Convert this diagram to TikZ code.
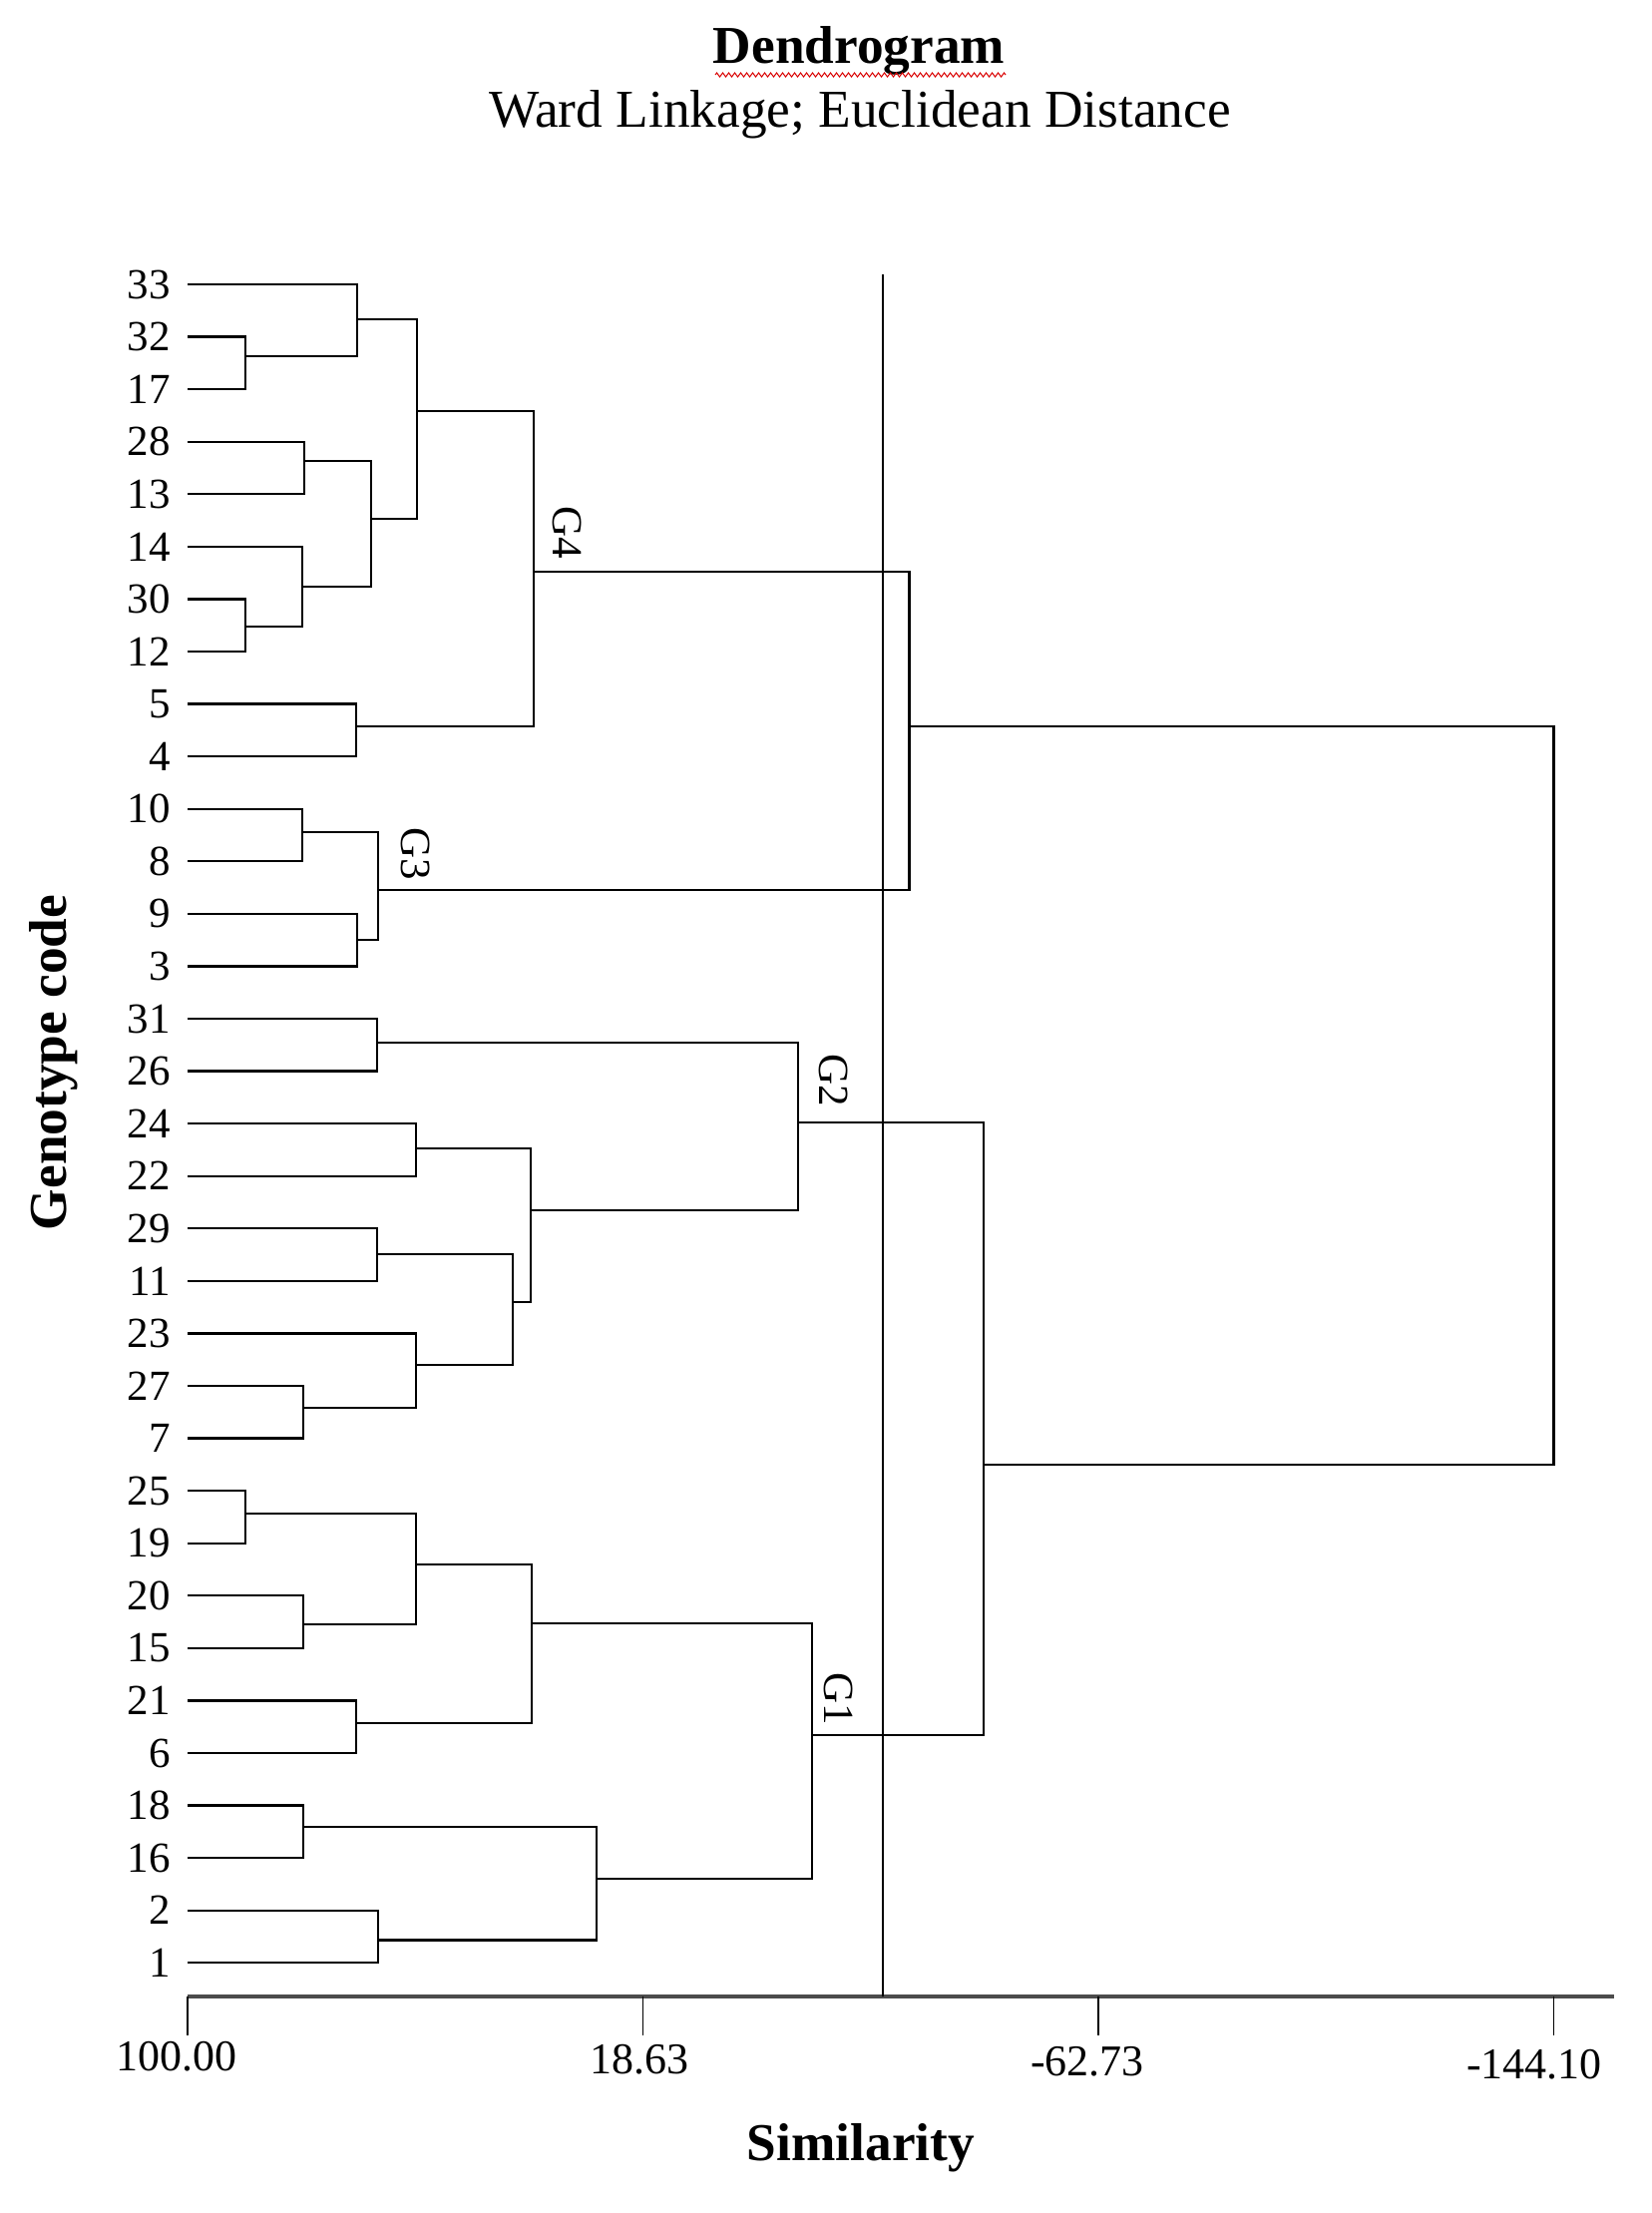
\documentclass[tikz,border=0pt]{standalone}
\usepackage{fontspec}
\setmainfont{Liberation Serif}
\usepackage{tikz}
\usetikzlibrary{positioning,decorations.pathmorphing}
\tikzstyle{link}=[line width=0.7pt,draw=black]
\tikzstyle{leaflab}=[inner sep=0pt,font=\fontsize{12.9}{15}\selectfont]
\tikzstyle{grplab}=[inner sep=0pt,rotate=-90,font=\fontsize{12.9}{15}\selectfont]
\tikzstyle{ticklab}=[inner sep=0pt,font=\fontsize{13.2}{15}\selectfont]
\tikzstyle{axtitle}=[inner sep=0pt,font=\fontsize{16}{19}\selectfont\bfseries]
\tikzstyle{axisline}=[line width=1pt,draw=black!70]
\tikzstyle{tickmark}=[line width=0.45pt,draw=black]
\tikzstyle{squiggle}=[draw=red!85!black,line width=0.3pt,decorate,
                      decoration={zigzag,segment length=1.8pt,amplitude=0.6pt}]

\begin{document}
\begin{tikzpicture}[x=0.3pt,y=-0.3pt]
  \useasboundingbox (0,0) rectangle (1655,2218);
  % titles
  \node[axtitle,anchor=base] (ttl) at (861,64) {Dendrogram};
  \draw[squiggle] (717,75) -- (1008,75);
  \node[anchor=base,inner sep=0pt,font=\fontsize{16}{19}\selectfont] (sub) at (862,128) {Ward Linkage; Euclidean Distance};
  % leaves
  \foreach \g [count=\i from 0] in {33,32,17,28,13,14,30,12,5,4,10,8,9,3,31,26,24,22,29,11,23,27,7,25,19,20,15,21,6,18,16,2,1} {
    \coordinate (l\g) at (188,{285+52.57*\i});
    \node[leaflab,left=5pt of l\g] (n\g) {\g};
  }
  % merges of G4
  \coordinate (a1) at (246,357);
  \coordinate (a2) at (357.7,320);
  \coordinate (a3) at (305,461.7);
  \coordinate (a4) at (246,627.7);
  \coordinate (a5) at (303.3,587.7);
  \coordinate (a6) at (371.7,520);
  \coordinate (a7) at (417.7,411.7);
  \coordinate (a8) at (356.7,728.3);
  \coordinate (G4) at (535,573.3);
  % merges of G3
  \coordinate (b1) at (303.3,834);
  \coordinate (b2) at (357.7,942.3);
  \coordinate (G3) at (379.3,891.7);
  \coordinate (G34) at (911.4,727.7);
  % merges of G2
  \coordinate (c1) at (378.3,1045);
  \coordinate (c2) at (416.7,1151);
  \coordinate (c3) at (378.3,1257.2);
  \coordinate (c4) at (304,1411.2);
  \coordinate (c5) at (417.3,1367.7);
  \coordinate (c6) at (514.3,1305);
  \coordinate (c7) at (532.3,1213.3);
  \coordinate (G2) at (800,1125.3);
  % merges of G1
  \coordinate (d1) at (246,1516.9);
  \coordinate (d2) at (304,1627.9);
  \coordinate (d3) at (417.3,1568.1);
  \coordinate (d4) at (356.7,1727.3);
  \coordinate (d5) at (533.3,1627);
  \coordinate (d6) at (304,1831.1);
  \coordinate (d7) at (379.3,1944.5);
  \coordinate (d8) at (597.7,1883);
  \coordinate (G1) at (814.3,1739);
  \coordinate (G12) at (985.7,1468);
  \coordinate (root) at (1557.5,1098);

  \draw[link] (l32) -| (a1) |- (l17);
  \draw[link] (l33) -| (a2) |- (a1);
  \draw[link] (l28) -| (a3) |- (l13);
  \draw[link] (l30) -| (a4) |- (l12);
  \draw[link] (l14) -| (a5) |- (a4);
  \draw[link] (a3) -| (a6) |- (a5);
  \draw[link] (a2) -| (a7) |- (a6);
  \draw[link] (l5) -| (a8) |- (l4);
  \draw[link] (a7) -| (G4) |- (a8);

  \draw[link] (l10) -| (b1) |- (l8);
  \draw[link] (l9) -| (b2) |- (l3);
  \draw[link] (b1) -| (G3) |- (b2);
  \draw[link] (G4) -| (G34) |- (G3);

  \draw[link] (l31) -| (c1) |- (l26);
  \draw[link] (l24) -| (c2) |- (l22);
  \draw[link] (l29) -| (c3) |- (l11);
  \draw[link] (l27) -| (c4) |- (l7);
  \draw[link] (l23) -| (c5) |- (c4);
  \draw[link] (c3) -| (c6) |- (c5);
  \draw[link] (c2) -| (c7) |- (c6);
  \draw[link] (c1) -| (G2) |- (c7);

  \draw[link] (l25) -| (d1) |- (l19);
  \draw[link] (l20) -| (d2) |- (l15);
  \draw[link] (d1) -| (d3) |- (d2);
  \draw[link] (l21) -| (d4) |- (l6);
  \draw[link] (d3) -| (d5) |- (d4);
  \draw[link] (l18) -| (d6) |- (l16);
  \draw[link] (l2) -| (d7) |- (l1);
  \draw[link] (d6) -| (d8) |- (d7);
  \draw[link] (d5) -| (G1) |- (d8);

  \draw[link] (G2) -| (G12) |- (G1);
  \draw[link] (G34) -| (root) |- (G12);

  % group labels
  \node[grplab] (lg4) at (569,534) {G4};
  \node[grplab] (lg3) at (417,856) {G3};
  \node[grplab] (lg2) at (836,1083) {G2};
  \node[grplab] (lg1) at (841,1703) {G1};

  % axis
  \coordinate (ax0) at (188,2001);
  \coordinate (ax1) at (1618,2001);
  \draw[axisline] (ax0) -- (ax1);
  \foreach \tx/\lx/\ly/\tv [count=\k] in {188/177/2061/100.00,644.5/641/2064/18.63,1101/1090/2066/-62.73,1557.5/1538/2069/-144.10} {
    \draw[tickmark] (\tx,2001) -- (\tx,2040);
    \node[ticklab] (tl\k) at (\lx,\ly) {\tv};
  }
  % cut line
  \coordinate (cut) at (885.4,274.6);
  \draw[link,line width=0.6pt] (cut) -- (cut |- ax0);

  \node[axtitle] (xlab) at (863,2153) {Similarity};
  \node[axtitle,rotate=90] (ylab) at (54,1065) {Genotype code};
\end{tikzpicture}
\end{document}
